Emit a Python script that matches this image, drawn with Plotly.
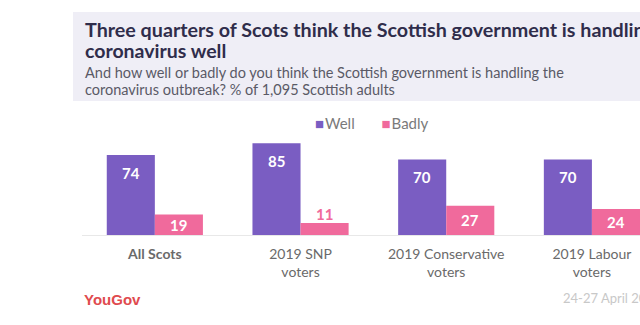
import plotly.graph_objects as go

# Survey results: how well the Scottish government is handling coronavirus
categories = ["All Scots", "2019 SNP voters", "2019 Conservative voters", "2019 Labour voters"]
tick_labels = ["<b>All Scots</b>", "2019 SNP<br>voters", "2019 Conservative<br>voters", "2019 Labour<br>voters"]
series_names = ["Well", "Badly"]
well = [74, 85, 70, 70]
badly = [19, 11, 27, 24]

PURPLE = "#7a5dc2"
PINK = "#f06a9c"
FONT = "Lato"

W, H = 640, 325
M_L, M_R, M_T, M_B = 82, 0, 135, 90
PLOT_W = W - M_L - M_R
PLOT_H = H - M_T - M_B
Y_MAX = 92.6
BARGAP = 0.34
HALF = (1 - BARGAP) / 4  # offset of each bar centre from the group centre


def px_x(px):
    return (px - M_L) / PLOT_W


def px_y(py):
    return (H - M_B - py) / PLOT_H


fig = go.Figure()
fig.add_trace(go.Bar(name=series_names[0], x=categories, y=well, marker_color=PURPLE,
                     marker_line_width=0, hoverinfo="skip", showlegend=False))
fig.add_trace(go.Bar(name=series_names[1], x=categories, y=badly, marker_color=PINK,
                     marker_line_width=0, hoverinfo="skip", showlegend=False))

# Value labels near the top of each bar (outside when the bar is too short)
px_per_unit = PLOT_H / Y_MAX
annotations = []
for values, sign in ((well, -1), (badly, 1)):
    for i, v in enumerate(values):
        h = v * px_per_unit
        if h < 16:
            shift, color = 9, PINK
        else:
            shift, color = -min(18, h / 2), "white"
        annotations.append(dict(
            x=i + sign * HALF, y=v, xref="x", yref="y", text=f"<b>{v}</b>",
            showarrow=False, yshift=shift, yanchor="middle", xanchor="center",
            font=dict(family=FONT, size=15, color=color)))

# Compact key above the bars
key = (f"<span style='color:{PURPLE}'>■</span>&#8202;{series_names[0]}"
       "&nbsp;&nbsp;&nbsp;&nbsp;&nbsp;&nbsp;&nbsp;"
       f"<span style='color:{PINK}'>■</span>&#8202;{series_names[1]}")
annotations.append(dict(x=px_x(372.5), y=px_y(123), xref="paper", yref="paper",
                        xanchor="center", yanchor="middle", text=key, showarrow=False,
                        font=dict(family=FONT, size=15, color="#7a7a7a")))

# Header box text
annotations += [
    dict(x=px_x(83), y=px_y(29), xref="paper", yref="paper", xanchor="left", yanchor="middle",
         text="<b>Three quarters of Scots think the Scottish government is handling</b>",
         showarrow=False, font=dict(family=FONT, size=19.7, color="#2f2d4b")),
    dict(x=px_x(83), y=px_y(51), xref="paper", yref="paper", xanchor="left", yanchor="middle",
         text="<b>coronavirus well</b>",
         showarrow=False, font=dict(family=FONT, size=19.5, color="#2f2d4b")),
    dict(x=px_x(83), y=px_y(72), xref="paper", yref="paper", xanchor="left", yanchor="middle",
         text="And how well or badly do you think the Scottish government is handling the",
         showarrow=False, font=dict(family=FONT, size=14.5, color="#5a5a66")),
    dict(x=px_x(83), y=px_y(89), xref="paper", yref="paper", xanchor="left", yanchor="middle",
         text="coronavirus outbreak? % of 1,095 Scottish adults",
         showarrow=False, font=dict(family=FONT, size=14.5, color="#5a5a66")),
    dict(x=px_x(82), y=px_y(299), xref="paper", yref="paper", xanchor="left", yanchor="middle",
         text="<b>YouGov</b>", showarrow=False,
         font=dict(family="Liberation Sans", size=15, color="#e04a4e")),
    dict(x=px_x(561), y=px_y(298), xref="paper", yref="paper", xanchor="left", yanchor="middle",
         text="24-27 April 2020", showarrow=False,
         font=dict(family=FONT, size=13, color="#c8c8c8")),
]

fig.update_layout(
    width=W, height=H,
    margin=dict(l=M_L, r=M_R, t=M_T, b=M_B, pad=0),
    paper_bgcolor="white", plot_bgcolor="white",
    barmode="group", bargap=BARGAP, bargroupgap=0,
    font=dict(family=FONT, size=14, color="#6a6a6a"),
    showlegend=False,
    shapes=[dict(type="rect", xref="paper", yref="paper",
                 x0=px_x(73), x1=px_x(660), y0=px_y(101), y1=px_y(12),
                 fillcolor="#efeef6", line_width=0, layer="below")],
    annotations=annotations,
)

fig.update_xaxes(type="category", range=[-0.5, 3.33], tickvals=categories, ticktext=tick_labels,
                 showline=True, linecolor="#e8e8e8", linewidth=1, ticks="", showgrid=False,
                 ticklabelstandoff=6,
                 tickfont=dict(family=FONT, size=14, color="#6a6a6a"), fixedrange=True)
fig.update_yaxes(range=[0, Y_MAX], visible=False, showgrid=False, zeroline=False, fixedrange=True)

fig.write_html("out.html")
